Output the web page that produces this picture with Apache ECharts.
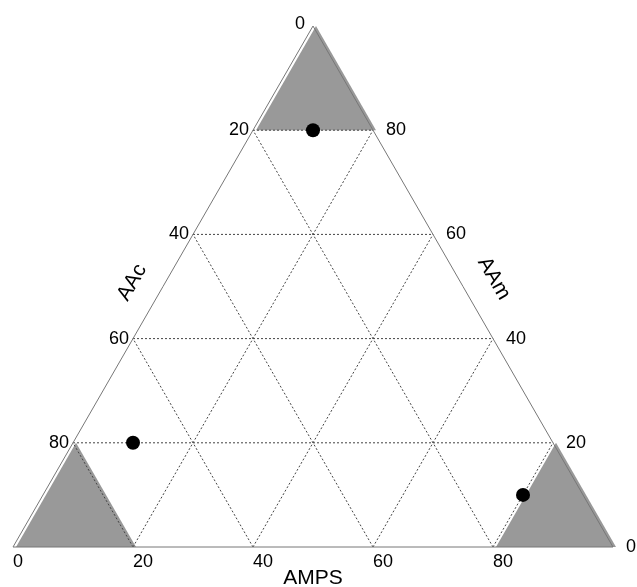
<!DOCTYPE html>
<html>
<head>
<meta charset="utf-8">
<script src="https://cdn.jsdelivr.net/npm/echarts@6/dist/echarts.min.js"></script>
<style>html,body{margin:0;padding:0;background:#fff;}#c{width:637px;height:587px;}</style>
</head>
<body>
<div id="c"></div>
<script>
// ---- data ----
const ticks = [0, 20, 40, 60, 80];
const gridLevels = [20, 40, 60, 80];
const axisNames = { bottom: 'AMPS', left: 'AAc', right: 'AAm' };
const pointAMPS = [10, 10, 80];
const pointAAm = [80, 20, 10];
const pointAAc = [10, 70, 10];
const cornerLimit = 80; // shaded corners: one component >= 80

// ternary (AMPS, AAm) -> cartesian data coords
function tern(amps, aam) { return [amps + aam / 2, aam]; }

const FONT = 'Liberation Sans, Arial, sans-serif';
const chart = echarts.init(document.getElementById('c'));

function renderFrame(params, api) {
  const c = (a, m) => api.coord(tern(a, m));
  const children = [];
  const shift = 3;
  const lo = 100 - cornerLimit;
  // shaded corner triangles
  const corners = [
    [[0, 100], [0, cornerLimit], [lo, cornerLimit]],          // AAm >= 80 (top)
    [[0, 0], [lo, 0], [0, lo]],                                // AAc >= 80 (bottom-left)
    [[cornerLimit, 0], [100, 0], [cornerLimit, lo]]            // AMPS >= 80 (bottom-right)
  ];
  corners.forEach(tri => {
    children.push({
      type: 'polygon',
      shape: { points: tri.map(p => { const q = c(p[0], p[1]); return [q[0] + shift, q[1]]; }) },
      style: { fill: '#999999', stroke: null }
    });
  });
  // dotted grid lines
  gridLevels.forEach(v => {
    const segs = [
      [c(0, v), c(100 - v, v)],          // constant AAm
      [c(v, 0), c(v, 100 - v)],          // constant AMPS
      [c(100 - v, 0), c(0, 100 - v)]     // constant AAc
    ];
    segs.forEach(s => children.push({
      type: 'line',
      shape: { x1: s[0][0], y1: s[0][1], x2: s[1][0], y2: s[1][1] },
      style: { stroke: '#444', lineWidth: 1, lineDash: [2, 2] }
    }));
  });
  // outline
  children.push({
    type: 'polygon',
    shape: { points: [c(0, 0), c(100, 0), c(0, 100)] },
    style: { fill: null, stroke: '#777', lineWidth: 1 }
  });
  // tick labels
  const tstyle = (txt, x, y, align, va) => ({
    type: 'text', x: x, y: y,
    style: { text: txt, font: '18px ' + FONT, fill: '#000', align: align, verticalAlign: va }
  });
  ticks.forEach(v => {
    const b = c(v, 0);
    children.push(tstyle(String(v), b[0], b[1] + 6, 'left', 'top'));
    const l = c(0, 100 - v);
    children.push(tstyle(String(v), l[0] - (v === 0 ? 8 : 4), l[1] - (v === 0 ? 2 : 0), 'right', 'middle'));
    const r = c(100 - v, v);
    children.push(tstyle(String(v), r[0] + 13, r[1], 'left', 'middle'));
  });
  // axis titles
  const bm = c(50, 0), lm = c(0, 50), rm = c(50, 50);
  const title = (txt, x, y, rot) => ({
    type: 'text', x: x, y: y, rotation: rot,
    style: { text: txt, font: '21px ' + FONT, fill: '#000', align: 'center', verticalAlign: 'middle' }
  });
  children.push(title(axisNames.bottom, bm[0], bm[1] + 31, 0));
  children.push(title(axisNames.left, lm[0] - 31, lm[1] - 4, Math.PI / 3));
  children.push(title(axisNames.right, rm[0] + 31, rm[1] - 8, -Math.PI / 3));
  return { type: 'group', children: children };
}

chart.setOption({
  animation: false,
  grid: { left: 13, top: 26, width: 600, height: 521 },
  xAxis: { type: 'value', min: 0, max: 100, show: false },
  yAxis: { type: 'value', min: 0, max: 100, show: false },
  series: [
    { type: 'custom', renderItem: renderFrame, data: [0], silent: true, z: 1 },
    {
      type: 'scatter', z: 5, symbol: 'circle', symbolSize: 14,
      itemStyle: { color: '#000', opacity: 1 },
      data: pointAMPS.map((a, i) => tern(a, pointAAm[i]))
    }
  ]
});
</script>
</body>
</html>
